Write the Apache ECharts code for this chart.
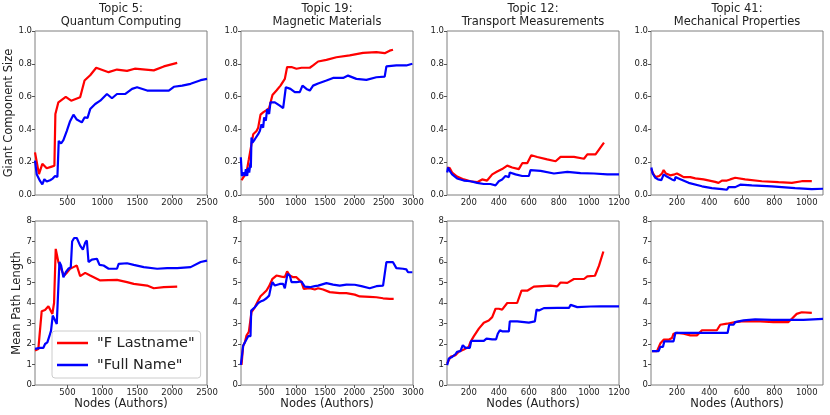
<!DOCTYPE html>
<html>
<head>
<meta charset="utf-8">
<script src="https://cdn.jsdelivr.net/npm/echarts@6/dist/echarts.min.js"></script>
<style>
html, body { margin: 0; padding: 0; background: #fff; }
#chart { width: 830px; height: 415px; }
</style>
</head>
<body>
<div id="chart"></div>
<script>
// values: [nodes, value]
const t5GcLast = [[35,0.26],[92,0.127],[140,0.19],[203,0.163],[275,0.173],[313,0.178],[327,0.494],[370,0.565],[418,0.58],[476,0.598],[553,0.575],[682,0.596],[745,0.698],[826,0.73],[912,0.776],[1090,0.749],[1210,0.765],[1354,0.757],[1464,0.77],[1737,0.76],[1881,0.784],[2073,0.806]];
const t5GcFull = [[35,0.21],[59,0.127],[107,0.086],[140,0.065],[169,0.096],[203,0.082],[251,0.09],[289,0.10],[323,0.116],[356,0.11],[375,0.33],[409,0.314],[442,0.335],[490,0.39],[538,0.45],[586,0.49],[634,0.46],[706,0.443],[745,0.473],[788,0.47],[826,0.524],[898,0.555],[970,0.575],[1066,0.616],[1138,0.59],[1210,0.616],[1330,0.616],[1426,0.647],[1498,0.657],[1642,0.637],[1786,0.637],[1953,0.637],[2025,0.66],[2145,0.667],[2265,0.678],[2409,0.70],[2500,0.708]];
const t5PlLast = [[35,1.68],[83,1.76],[131,3.6],[179,3.66],[227,3.84],[251,3.9],[284,3.47],[308,4.0],[332,6.64],[370,6.0],[418,5.59],[452,5.34],[490,5.47],[538,5.67],[586,5.75],[634,5.83],[682,5.31],[754,5.47],[826,5.34],[970,5.10],[1210,5.13],[1354,5.02],[1450,4.93],[1642,4.85],[1737,4.72],[1881,4.77],[2073,4.80]];
const t5PlFull = [[35,1.76],[107,1.81],[155,1.81],[179,2.0],[212,2.08],[241,2.38],[265,2.65],[289,3.39],[313,3.22],[337,3.3],[347,2.98],[370,2.98],[385,6.0],[409,5.83],[442,5.26],[476,5.5],[514,5.67],[548,5.75],[567,7.0],[596,7.17],[634,7.17],[682,6.8],[721,6.6],[754,6.94],[778,7.05],[802,6.0],[850,6.12],[922,6.16],[960,5.86],[1018,5.83],[1090,5.67],[1210,5.67],[1234,5.91],[1354,5.94],[1450,5.86],[1594,5.75],[1786,5.67],[1929,5.7],[2073,5.7],[2265,5.75],[2409,6.0],[2500,6.07]];

const t19GcLast = [[74,0.09],[102,0.106],[159,0.137],[199,0.218],[227,0.208],[244,0.31],[273,0.37],[330,0.39],[358,0.41],[398,0.49],[443,0.504],[500,0.518],[545,0.53],[602,0.61],[670,0.637],[739,0.667],[813,0.708],[852,0.78],[926,0.78],[1011,0.77],[1097,0.776],[1239,0.776],[1295,0.79],[1381,0.814],[1523,0.824],[1693,0.84],[1920,0.851],[2148,0.867],[2375,0.871],[2517,0.865],[2602,0.88],[2659,0.886]];
const t19GcFull = [[62,0.23],[80,0.116],[114,0.137],[131,0.116],[148,0.157],[170,0.116],[188,0.167],[205,0.137],[227,0.198],[233,0.167],[244,0.351],[261,0.32],[301,0.34],[358,0.371],[386,0.39],[415,0.432],[443,0.41],[460,0.473],[489,0.453],[511,0.524],[545,0.494],[568,0.565],[642,0.565],[727,0.545],[784,0.53],[830,0.657],[909,0.647],[983,0.627],[1068,0.627],[1114,0.667],[1182,0.647],[1239,0.637],[1295,0.667],[1381,0.68],[1523,0.698],[1636,0.714],[1807,0.714],[1892,0.728],[2034,0.708],[2205,0.702],[2375,0.718],[2517,0.722],[2546,0.784],[2716,0.79],[2886,0.79],[2989,0.8]];
const t19PlLast = [[74,0.98],[102,1.92],[131,2.08],[159,2.41],[199,2.6],[227,2.65],[244,3.55],[301,3.79],[358,4.12],[398,4.33],[443,4.45],[500,4.61],[545,4.82],[602,5.18],[670,5.34],[756,5.29],[813,5.26],[852,5.54],[898,5.34],[955,5.26],[1011,5.26],[1097,5.02],[1136,4.69],[1239,4.72],[1324,4.66],[1381,4.72],[1466,4.66],[1580,4.53],[1750,4.48],[1864,4.48],[2006,4.41],[2091,4.32],[2261,4.3],[2375,4.28],[2489,4.23],[2602,4.2],[2670,4.2]];
const t19PlFull = [[62,0.98],[85,0.98],[102,1.92],[131,2.0],[148,2.17],[170,2.17],[188,2.38],[227,2.38],[239,3.63],[261,3.55],[301,3.79],[358,4.0],[398,4.07],[443,4.12],[500,4.23],[545,4.36],[574,4.77],[602,5.02],[642,4.85],[727,4.93],[784,4.93],[813,4.72],[841,4.77],[858,5.42],[898,5.34],[926,5.02],[1011,5.02],[1097,5.05],[1153,4.8],[1239,4.77],[1324,4.82],[1381,4.85],[1523,4.97],[1636,4.9],[1750,4.85],[1864,4.9],[2006,4.89],[2119,4.82],[2261,4.72],[2375,4.82],[2489,4.85],[2517,4.85],[2546,5.99],[2659,5.99],[2716,5.7],[2830,5.67],[2886,5.64],[2915,5.5],[2989,5.5]];

const t12GcLast = [[56,0.168],[73,0.164],[89,0.137],[122,0.112],[167,0.095],[211,0.084],[256,0.078],[289,0.095],[322,0.088],[356,0.126],[389,0.143],[422,0.158],[456,0.179],[489,0.168],[533,0.158],[556,0.194],[589,0.194],[616,0.242],[656,0.232],[722,0.217],[778,0.206],[811,0.232],[900,0.232],[967,0.221],[989,0.248],[1044,0.248],[1100,0.32]];
const t12GcFull = [[56,0.137],[62,0.168],[73,0.147],[89,0.126],[122,0.101],[167,0.088],[211,0.084],[256,0.074],[300,0.067],[344,0.067],[378,0.059],[400,0.084],[422,0.095],[444,0.116],[467,0.109],[473,0.137],[511,0.126],[556,0.116],[600,0.116],[611,0.152],[678,0.147],[767,0.131],[856,0.141],[944,0.133],[1033,0.131],[1122,0.126],[1200,0.126]];
const t12PlLast = [[56,1.05],[78,1.37],[111,1.45],[133,1.62],[167,1.73],[200,1.86],[211,2.1],[233,2.37],[267,2.75],[300,3.04],[333,3.15],[356,3.31],[378,3.72],[400,3.72],[422,3.68],[456,4.0],[522,4.0],[551,4.6],[589,4.6],[633,4.8],[744,4.85],[789,4.81],[811,5.0],[856,4.98],[900,5.17],[967,5.17],[989,5.3],[1040,5.33],[1067,5.82],[1096,6.51]];
const t12PlFull = [[56,0.97],[67,1.29],[89,1.37],[111,1.5],[122,1.62],[144,1.65],[160,1.94],[178,1.81],[207,1.81],[216,2.15],[256,2.15],[300,2.15],[318,2.26],[356,2.23],[382,2.23],[393,2.5],[407,2.67],[422,2.62],[467,2.62],[473,3.1],[522,3.1],[600,3.04],[640,3.1],[651,3.68],[667,3.63],[700,3.75],[789,3.76],[867,3.76],[878,3.91],[922,3.8],[1011,3.83],[1078,3.84],[1200,3.84]];

const t41GcLast = [[42,0.158],[50,0.137],[67,0.109],[91,0.116],[108,0.131],[118,0.152],[132,0.131],[159,0.12],[186,0.126],[200,0.131],[221,0.12],[241,0.109],[282,0.109],[313,0.101],[364,0.095],[436,0.08],[456,0.074],[477,0.088],[508,0.088],[528,0.095],[559,0.105],[620,0.095],[723,0.084],[826,0.078],[908,0.074],[969,0.084],[1031,0.084]];
const t41GcFull = [[42,0.168],[50,0.131],[67,0.105],[83,0.095],[93,0.105],[104,0.091],[118,0.126],[132,0.116],[169,0.095],[186,0.088],[191,0.109],[210,0.101],[272,0.074],[354,0.053],[415,0.042],[477,0.036],[508,0.032],[518,0.048],[559,0.048],[590,0.063],[661,0.059],[785,0.053],[928,0.042],[1031,0.036],[1100,0.038]];
const t41PlLast = [[46,1.65],[77,1.65],[97,2.02],[118,2.21],[149,2.21],[169,2.29],[179,2.5],[200,2.54],[241,2.5],[282,2.42],[323,2.42],[354,2.67],[405,2.67],[446,2.67],[467,2.94],[508,2.99],[559,3.07],[610,3.12],[713,3.1],[795,3.07],[887,3.07],[908,3.23],[938,3.47],[969,3.55],[1031,3.52]];
const t41PlFull = [[46,1.65],[87,1.65],[97,1.86],[114,1.86],[122,2.13],[179,2.13],[190,2.54],[303,2.54],[405,2.54],[512,2.54],[522,2.94],[549,2.94],[559,3.07],[610,3.15],[682,3.2],[785,3.18],[877,3.18],[979,3.18],[1100,3.23]];

const xTicks5 = [500, 1000, 1500, 2000, 2500];
const xTicks19 = [500, 1000, 1500, 2000, 2500, 3000];
const xTicks12 = [200, 400, 600, 800, 1000, 1200];
const xTicks41 = [200, 400, 600, 800, 1000];
const gcTicks = [0, 0.2, 0.4, 0.6, 0.8, 1.0];
const plTicks = [0, 1, 2, 3, 4, 5, 6, 7, 8];

const titles = ['Topic 5:\nQuantum Computing', 'Topic 19:\nMagnetic Materials', 'Topic 12:\nTransport Measurements', 'Topic 41:\nMechanical Properties'];
const seriesNames = ['"F Lastname"', '"Full Name"'];

const panels = [
    {xMin: 35, xMax: 2500, ticks: xTicks5, gc: [t5GcLast, t5GcFull], pl: [t5PlLast, t5PlFull]},
    {xMin: 65, xMax: 3000, ticks: xTicks19, gc: [t19GcLast, t19GcFull], pl: [t19PlLast, t19PlFull]},
    {xMin: 55, xMax: 1200, ticks: xTicks12, gc: [t12GcLast, t12GcFull], pl: [t12PlLast, t12PlFull]},
    {xMin: 40, xMax: 1100, ticks: xTicks41, gc: [t41GcLast, t41GcFull], pl: [t41PlLast, t41PlFull]}
];

const FONT = 'DejaVu Sans';
const colors = ['#ff0000', '#0000ff'];
const lefts = [35, 241, 447, 651];
const tops = [31, 221];
const W = 172, H = 164;

const grids = [], xAxes = [], yAxes = [], series = [], graphics = [];

panels.forEach((p, col) => {
    [0, 1].forEach(row => {
        const idx = grids.length;
        grids.push({
            left: lefts[col], top: tops[row], width: W, height: H,
            show: true, borderColor: '#7f7f7f', borderWidth: 1, backgroundColor: '#fff'
        });
        xAxes.push({
            type: 'value', gridIndex: idx, min: p.xMin, max: p.xMax,
            axisLine: {show: false},
            axisTick: {show: true, length: 3, lineStyle: {color: '#555'}, customValues: p.ticks},
            axisLabel: {
                customValues: p.ticks, fontFamily: FONT, fontSize: 8.5, color: '#222', margin: 3,
                formatter: v => String(v)
            },
            splitLine: {show: false},
            name: row === 1 ? 'Nodes (Authors)' : '',
            nameLocation: 'middle', nameGap: 13,
            nameTextStyle: {fontFamily: FONT, fontSize: 11.5, color: '#222'}
        });
        const yt = row === 0 ? gcTicks : plTicks;
        yAxes.push({
            type: 'value', gridIndex: idx, min: 0, max: row === 0 ? 1 : 8,
            axisLine: {show: false},
            axisTick: {show: true, length: 3, lineStyle: {color: '#555'}, customValues: yt},
            axisLabel: {
                customValues: yt, fontFamily: FONT, fontSize: 8.5, color: '#222', margin: 3,
                formatter: v => row === 0 ? v.toFixed(1) : String(v)
            },
            splitLine: {show: false},
            name: col === 0 ? (row === 0 ? 'Giant Component Size' : 'Mean Path Length') : '',
            nameLocation: 'middle', nameRotate: 90, nameGap: row === 0 ? 16 : 10,
            nameTextStyle: {fontFamily: FONT, fontSize: 11.5, color: '#222'}
        });
        const sets = row === 0 ? p.gc : p.pl;
        sets.forEach((d, k) => {
            series.push({
                type: 'line', name: seriesNames[k], xAxisIndex: idx, yAxisIndex: idx,
                data: d, showSymbol: false, symbol: 'none',
                lineStyle: {color: colors[k], width: 2.2}, itemStyle: {color: colors[k]},
                z: 2 + k
            });
        });
    });
    graphics.push({
        type: 'text', x: lefts[col] + W / 2, y: 3,
        style: {
            text: titles[col], textAlign: 'center', textVerticalAlign: 'top',
            fontFamily: FONT, fontSize: 11.5, lineHeight: 13, fill: '#222'
        }
    });
});

const chart = echarts.init(document.getElementById('chart'), null, {renderer: 'canvas'});
chart.setOption({
    animation: false,
    backgroundColor: '#fff',
    grid: grids,
    xAxis: xAxes,
    yAxis: yAxes,
    series: series,
    graphic: graphics,
    legend: {
        data: seriesNames,
        orient: 'vertical',
        left: 52, top: 331,
        icon: 'rect', itemWidth: 31, itemHeight: 2.5, itemGap: 6,
        padding: [4, 6, 5, 5],
        borderColor: '#cccccc', borderWidth: 1, borderRadius: 3,
        backgroundColor: 'rgba(255,255,255,0.85)',
        textStyle: {fontFamily: FONT, fontSize: 14.5, color: '#222', lineHeight: 16, padding: [0, 0, 0, 4]}
    }
});
</script>
</body>
</html>
